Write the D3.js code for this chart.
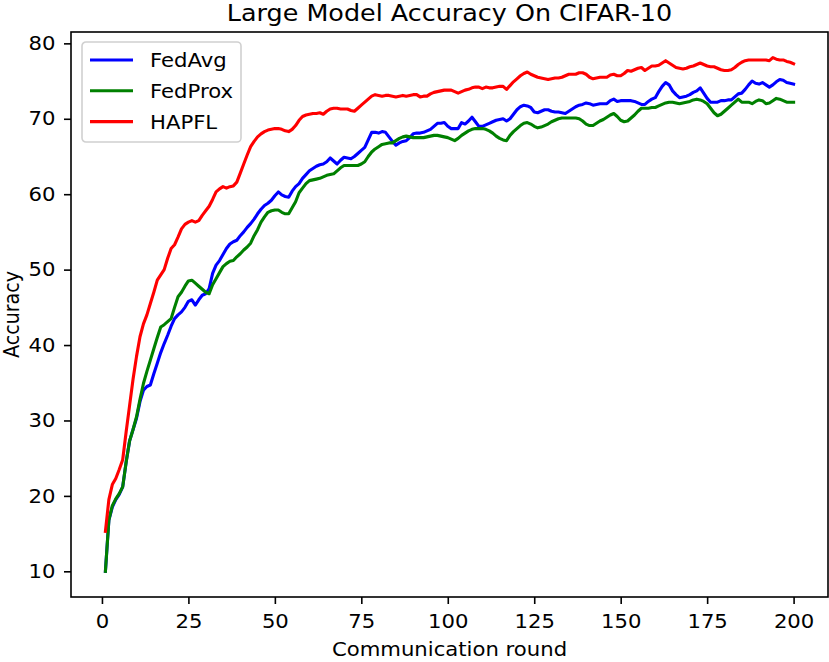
<!DOCTYPE html>
<html>
<head>
<meta charset="utf-8">
<script src="https://cdn.jsdelivr.net/npm/d3@7"></script>
<style>
  body { margin: 0; background: #fff; }
  svg { display: block; font-family: "DejaVu Sans", sans-serif; }
</style>
</head>
<body>
<svg id="chart" width="829" height="662"></svg>
<script>
// Accuracy per communication round (1..200)
const fedAvg = [
  10, 16.8, 18.5, 19.5, 20.2, 21.2, 24.5, 27.3, 28.8, 30.3,
  32.5, 34, 34.5, 34.7, 36.2, 37.6, 39, 40.2, 41.3, 42.5,
  43.5, 44, 44.4, 45, 45.8, 46, 45.3, 46, 46.6, 46.8,
  47.5, 49.5, 50.6, 51.2, 52, 52.8, 53.4, 53.7, 53.9, 54.5,
  55, 55.6, 56.1, 56.7, 57.4, 58, 58.5, 58.8, 59.2, 59.8,
  60.3, 59.9, 59.7, 59.6, 60.4, 61, 61.4, 62.1, 62.6, 63.1,
  63.4, 63.7, 63.9, 64, 64.3, 64.8, 64.4, 64, 64.5, 64.9,
  64.8, 64.7, 65, 65.4, 65.8, 66.2, 67.2, 68.2, 68.2, 68.1,
  68.3, 68.2, 67.6, 67, 66.5, 66.8, 67, 67.1, 67.5, 68,
  68.1, 68.1, 68.2, 68.4, 68.6, 69, 69.4, 69.4, 69.5, 69,
  68.7, 68.7, 68.7, 69.5, 69.3, 69.7, 70.2, 69.6, 69, 69,
  69.2, 69.4, 69.6, 69.8, 69.9, 70, 69.7, 70, 70.6, 71.2,
  71.6, 71.8, 71.7, 71.5, 70.9, 70.8, 71, 71.2, 71.2, 71,
  70.9, 70.9, 70.8, 70.7, 71, 71.3, 71.6, 71.8, 71.9, 72.1,
  72, 71.8, 71.9, 72, 72, 72, 72.4, 72.6, 72.3, 72.4,
  72.4, 72.4, 72.4, 72.3, 72.1, 71.9, 71.9, 72.3, 72.6, 72.8,
  73.6, 74.3, 74.8, 74.5, 73.7, 73.2, 72.8, 72.9, 73, 73.2,
  73.5, 73.7, 74.1, 73.4, 72.7, 72.2, 72.2, 72.2, 72.4, 72.4,
  72.5, 72.5, 72.9, 73.3, 73.4, 73.9, 74.5, 75, 74.7, 74.6,
  74.8, 74.5, 74.2, 74.5, 74.9, 75.2, 75.1, 74.8, 74.7, 74.6
];
const fedProx = [
  10, 16.8, 18.7, 19.6, 20.3, 21.2, 24.5, 27.3, 28.8, 30.5,
  32.8, 34.9, 36.5, 38, 39.5, 41, 42.4, 42.7, 43.1, 43.5,
  45, 46.4, 47, 47.8, 48.5, 48.6, 48.2, 47.8, 47.4, 47,
  46.8, 48, 48.8, 49.6, 50.4, 50.8, 51.1, 51.2, 51.7, 52.1,
  52.6, 53, 53.5, 54.5, 55.3, 56.3, 57, 57.6, 57.8, 57.9,
  57.9, 57.6, 57.4, 57.4, 58.2, 59, 60.2, 60.8, 61.4, 61.8,
  61.9, 62, 62.1, 62.3, 62.5, 62.6, 62.7, 63.1, 63.5, 63.8,
  63.8, 63.8, 63.8, 63.8, 64, 64.3, 65, 65.6, 66, 66.3,
  66.6, 66.7, 66.8, 66.8, 67.1, 67.4, 67.6, 67.7, 67.6, 67.5,
  67.5, 67.5, 67.5, 67.6, 67.7, 67.8, 67.8, 67.7, 67.6, 67.5,
  67.3, 67.1, 67.4, 67.8, 68.1, 68.4, 68.6, 68.7, 68.7, 68.7,
  68.6, 68.4, 68.1, 67.7, 67.4, 67.2, 67.1, 67.8, 68.3, 68.7,
  69.1, 69.4, 69.5, 69.3, 69, 68.8, 68.9, 69.1, 69.3, 69.6,
  69.8, 70, 70.1, 70.1, 70.1, 70.1, 70.1, 70, 69.7, 69.3,
  69.1, 69.1, 69.4, 69.7, 69.9, 70.2, 70.5, 70.7, 70.3, 69.8,
  69.6, 69.7, 70.1, 70.5, 71, 71.4, 71.4, 71.4, 71.5, 71.5,
  71.7, 71.9, 72.1, 72.2, 72.2, 72.1, 72, 72.1, 72.2, 72.3,
  72.5, 72.6, 72.5, 72.3, 72, 71.4, 70.8, 70.4, 70.6, 71,
  71.4, 71.8, 72.2, 72.6, 72.2, 72.2, 72.2, 72, 72.3, 72.5,
  72.4, 72, 72.1, 72.4, 72.7, 72.6, 72.4, 72.2, 72.2, 72.2
];
const hapfl = [
  15.3, 19.5, 21.5, 22.3, 23.5, 24.8, 28.5, 32, 35.5, 38.5,
  41.1, 42.8, 44, 45.5, 47, 48.6, 49.3, 50, 51.5, 52.8,
  53.3, 54.3, 55.4, 56, 56.3, 56.5, 56.3, 56.5, 57.2, 57.8,
  58.4, 59.3, 60.3, 60.7, 61, 60.8, 61, 61.1, 61.6, 62.8,
  64, 65.2, 66.3, 67, 67.6, 68, 68.3, 68.5, 68.6, 68.7,
  68.7, 68.6, 68.4, 68.3, 68.6, 69.1, 69.8, 70.3, 70.5, 70.6,
  70.7, 70.7, 70.8, 70.6, 71, 71.3, 71.4, 71.4, 71.3, 71.3,
  71.3, 71.1, 71, 71.4, 71.8, 72.2, 72.6, 73, 73.2, 73.1,
  73, 73.1, 73.1, 73, 72.9, 73, 73.1, 73, 73.1, 73.2,
  73.2, 72.9, 73, 73, 73.3, 73.5, 73.6, 73.7, 73.8, 73.8,
  73.8, 73.6, 73.4, 73.6, 73.8, 73.9, 74.1, 74.2, 74.2, 74,
  74.2, 74.1, 74.1, 74.2, 74.3, 74.3, 73.9, 74.4, 74.9, 75.3,
  75.7, 76, 76.2, 75.9, 75.7, 75.5, 75.4, 75.3, 75.2, 75.3,
  75.4, 75.4, 75.5, 75.7, 75.9, 75.9, 75.9, 76.1, 76.1, 75.9,
  75.5, 75.3, 75.4, 75.5, 75.5, 75.5, 75.8, 75.9, 75.7, 75.7,
  76, 76.4, 76.3, 76.5, 76.7, 76.8, 76.4, 76.7, 77, 77,
  77.1, 77.4, 77.7, 77.4, 77.1, 76.8, 76.7, 76.6, 76.7, 76.9,
  77, 77.2, 77.4, 77.2, 77, 76.9, 76.9, 76.7, 76.5, 76.4,
  76.4, 76.5, 76.8, 77.2, 77.5, 77.7, 77.8, 77.8, 77.8, 77.8,
  77.8, 77.8, 77.7, 78.1, 77.9, 77.8, 77.8, 77.6, 77.5, 77.3
];

const seriesNames = ["FedAvg", "FedProx", "HAPFL"];
const seriesColors = ["#0000ff", "#008000", "#ff0000"];
const xTicks = [0, 25, 50, 75, 100, 125, 150, 175, 200];
const yTicks = [10, 20, 30, 40, 50, 60, 70, 80];

const svg = d3.select("#chart");
const width = 829, height = 662;
const margin = { top: 32, right: 1, bottom: 65, left: 71 };
const stretch = 1.11;       // the picture is a bit wider than tall, text too
const labelSize = "19.1px";

const series = [fedAvg, fedProx, hapfl].map((vals, k) => ({
  name: seriesNames[k],
  color: seriesColors[k],
  points: vals.map((v, i) => ({ round: i + 1, acc: v }))
}));

// matplotlib-like 5% padding around the data
const xScale = d3.scaleLinear()
  .domain([1 - 0.05 * 199, 200 + 0.05 * 199])
  .range([margin.left, width - margin.right]);

const allVals = fedAvg.concat(fedProx, hapfl);
const yMin = d3.min(allVals), yMax = d3.max(allVals);
const pad = (yMax - yMin) * 0.05;
const yScale = d3.scaleLinear()
  .domain([yMin - pad, yMax + pad])
  .range([height - margin.bottom, margin.top]);

// axes
const xAxis = svg.append("g")
  .attr("transform", `translate(0,${height - margin.bottom})`)
  .call(d3.axisBottom(xScale).tickValues(xTicks).tickSize(7).tickPadding(10));

const yAxis = svg.append("g")
  .attr("transform", `translate(${margin.left},0)`)
  .call(d3.axisLeft(yScale).tickValues(yTicks).tickSize(7).tickPadding(8.5));

[xAxis, yAxis].forEach(g => {
  g.select(".domain").remove();
  g.selectAll(".tick line").attr("stroke", "#000").attr("stroke-width", 1.6);
  g.selectAll(".tick text")
    .attr("fill", "#000")
    .style("font-size", labelSize)
    .style("font-family", "DejaVu Sans")
    .each(function () {
      const t = d3.select(this);
      const x = +t.attr("x") || 0, y = +t.attr("y") || 0;
      t.attr("x", 0).attr("y", 0)
        .attr("transform", `translate(${x},${y}) scale(${stretch},1)`);
    });
});

// lines
const line = d3.line()
  .x(d => xScale(d.round))
  .y(d => yScale(d.acc));

svg.append("g")
  .selectAll("path")
  .data(series)
  .join("path")
  .attr("fill", "none")
  .attr("stroke", d => d.color)
  .attr("stroke-width", 3.1)
  .attr("stroke-linejoin", "round")
  .attr("stroke-linecap", "square")
  .attr("d", d => line(d.points));

// frame
svg.append("rect")
  .attr("x", margin.left)
  .attr("y", margin.top)
  .attr("width", width - margin.right - margin.left)
  .attr("height", height - margin.bottom - margin.top)
  .attr("fill", "none")
  .attr("stroke", "#000")
  .attr("stroke-width", 1.6);

// title and axis labels
const midX = (margin.left + width - margin.right) / 2;
svg.append("text")
  .attr("transform", `translate(${midX},20.5) scale(${stretch},1)`)
  .attr("text-anchor", "middle")
  .style("font-size", "22.9px")
  .text("Large Model Accuracy On CIFAR-10");

svg.append("text")
  .attr("transform", `translate(${midX},656) scale(${stretch},1)`)
  .attr("text-anchor", "middle")
  .style("font-size", labelSize)
  .text("Communication round");

svg.append("text")
  .attr("transform", `translate(19,${(margin.top + height - margin.bottom) / 2}) scale(${stretch},1) rotate(-90)`)
  .attr("text-anchor", "middle")
  .style("font-size", labelSize)
  .text("Accuracy");

// legend
const legend = svg.append("g").attr("transform", "translate(82,42)");
legend.append("rect")
  .attr("width", 159)
  .attr("height", 100)
  .attr("rx", 4)
  .attr("fill", "#fff")
  .attr("fill-opacity", 0.8)
  .attr("stroke", "#d0d0d0")
  .attr("stroke-width", 1.6);

series.forEach((s, i) => {
  const y = 18 + i * 30.8;
  legend.append("line")
    .attr("x1", 8).attr("x2", 51)
    .attr("y1", y).attr("y2", y)
    .attr("stroke", s.color)
    .attr("stroke-width", 3.1);
  legend.append("text")
    .attr("transform", `translate(68,${y + 7}) scale(${stretch},1)`)
    .style("font-size", labelSize)
    .text(s.name);
});
</script>
</body>
</html>
